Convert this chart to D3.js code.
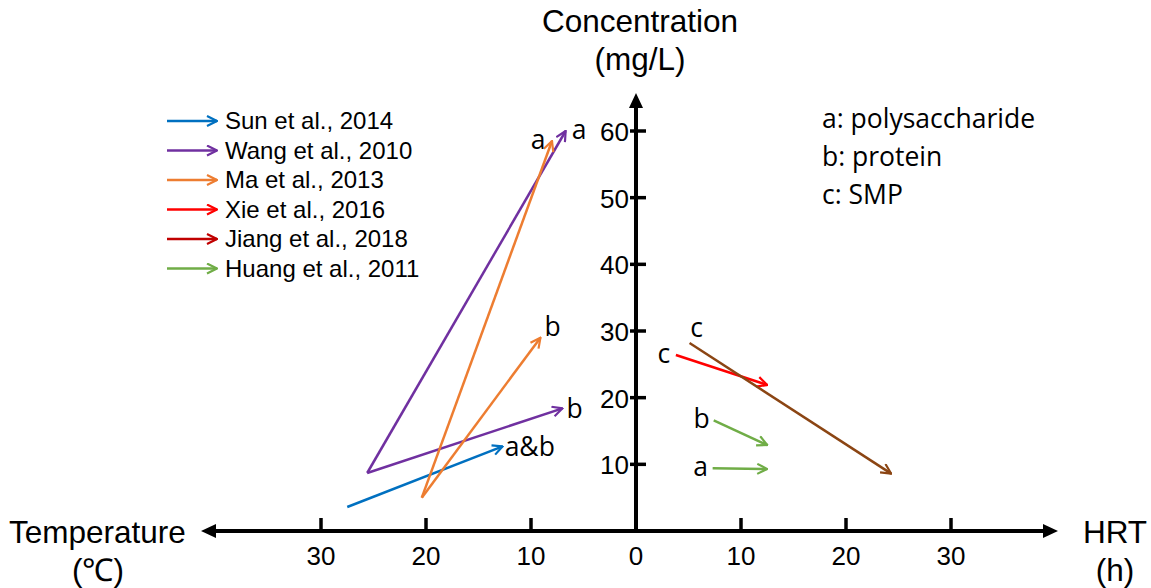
<!DOCTYPE html>
<html>
<head>
<meta charset="utf-8">
<script src="https://cdn.jsdelivr.net/npm/d3@7"></script>
<style>
  body { margin: 0; background: #fff; }
  svg { display: block; }
</style>
</head>
<body>
<svg width="1151" height="588"></svg>
<script>
// studies (legend order) and their colours
const studies = ["Sun et al., 2014", "Wang et al., 2010", "Ma et al., 2013",
                 "Xie et al., 2016", "Jiang et al., 2018", "Huang et al., 2011"];
const legendColors = ["#0070C0", "#7030A0", "#ED7D31", "#FF0000", "#C00000", "#70AD47"];
const lineColors = ["#0070C0", "#7030A0", "#ED7D31", "#FF0000", "#8B4513", "#70AD47"];

// arrows: x < 0 = temperature (°C, left side), x > 0 = HRT (h, right side), y = concentration (mg/L)
const arrowStudy = [0, 1, 1, 2, 2, 3, 4, 5, 5];
const arrowLabel = ["a&b", "a", "b", "a", "b", "c", "c", "b", "a"];
const x0 = [-27.5, -25.6, -25.6, -20.4, -20.4, 3.8, 5.1, 7.4, 7.3];
const y0 = [3.6, 8.7, 8.7, 5.0, 5.0, 26.4, 28.2, 16.6, 9.4];
const x1 = [-12.7, -6.7, -7.0, -8.0, -9.1, 12.5, 24.3, 12.5, 12.5];
const y1 = [12.7, 60, 18.4, 58.5, 29.0, 21.9, 8.6, 12.9, 9.3];

const xTicks = [-30, -20, -10, 0, 10, 20, 30];
const yTicks = [10, 20, 30, 40, 50, 60];
const componentKey = ["a: polysaccharide", "b: protein", "c: SMP"];

const svg = d3.select('svg');
const arial = "'Liberation Sans', Arial, sans-serif";
const calibri = "'Open Sans', Lato, sans-serif";

const xScale = d3.scaleLinear().domain([-30, 30]).range([321, 951]);
const yScale = d3.scaleLinear().domain([0, 60]).range([531, 131]);

// arrow marker per colour
const defs = svg.append('defs');
lineColors.concat(legendColors).forEach((c, i) => {
  defs.append('marker')
    .attr('id', 'm' + i)
    .attr('viewBox', '0 0 12 12')
    .attr('refX', 11).attr('refY', 6)
    .attr('markerWidth', 12).attr('markerHeight', 12)
    .attr('markerUnits', 'userSpaceOnUse')
    .attr('orient', 'auto')
    .append('path')
      .attr('d', 'M1,1 L11,6 L1,11')
      .attr('fill', 'none')
      .attr('stroke', c)
      .attr('stroke-width', 2.2);
});

// axes
const ox = xScale(0), oy = yScale(0);
svg.append('line')
  .attr('x1', 214).attr('x2', 1044).attr('y1', oy).attr('y2', oy)
  .attr('stroke', '#000').attr('stroke-width', 4);
svg.append('line')
  .attr('x1', ox).attr('x2', ox).attr('y1', oy + 2).attr('y2', 106)
  .attr('stroke', '#000').attr('stroke-width', 4);
svg.append('path').attr('d', `M201,${oy} L216,${oy - 7} L216,${oy + 7} Z`).attr('fill', '#000');
svg.append('path').attr('d', `M1058,${oy} L1043,${oy - 7} L1043,${oy + 7} Z`).attr('fill', '#000');
svg.append('path').attr('d', `M${ox},93 L${ox - 7},108 L${ox + 7},108 Z`).attr('fill', '#000');

// x ticks
svg.selectAll('.xtick').data(xTicks.filter(d => d !== 0)).enter()
  .append('line')
    .attr('x1', d => xScale(d)).attr('x2', d => xScale(d))
    .attr('y1', oy).attr('y2', oy - 13)
    .attr('stroke', '#000').attr('stroke-width', 3.5);
svg.selectAll('.xlab').data(xTicks).enter()
  .append('text')
    .attr('x', d => xScale(d)).attr('y', oy + 34)
    .attr('text-anchor', 'middle')
    .style('font-family', arial).style('font-size', '26px')
    .text(d => Math.abs(d));

// y ticks
svg.selectAll('.ytick').data(yTicks).enter()
  .append('line')
    .attr('x1', ox - 6).attr('x2', ox + 10)
    .attr('y1', d => yScale(d)).attr('y2', d => yScale(d))
    .attr('stroke', '#000').attr('stroke-width', 3.5);
svg.selectAll('.ylab').data(yTicks).enter()
  .append('text')
    .attr('x', ox - 7).attr('y', d => yScale(d) + 10)
    .attr('text-anchor', 'end')
    .style('font-family', arial).style('font-size', '26px')
    .text(d => d);

// axis titles
const titles = [
  ["Concentration", 640, 32, 'middle'], ["(mg/L)", 640, 70, 'middle'],
  ["Temperature", 9, 543, 'start'], ["(℃)", 98, 581, 'middle'],
  ["HRT", 1115, 543, 'middle'], ["(h)", 1115, 581, 'middle']
];
svg.selectAll('.title').data(titles).enter()
  .append('text')
    .attr('x', d => d[1]).attr('y', d => d[2])
    .attr('text-anchor', d => d[3])
    .style('font-family', arial).style('font-size', '31.5px')
    .text(d => d[0]);

// data arrows
const arrows = arrowStudy.map((s, i) => ({ s, label: arrowLabel[i], x0: x0[i], y0: y0[i], x1: x1[i], y1: y1[i] }));
svg.selectAll('.arrow').data(arrows).enter()
  .append('line')
    .attr('x1', d => xScale(d.x0)).attr('y1', d => yScale(d.y0))
    .attr('x2', d => xScale(d.x1)).attr('y2', d => yScale(d.y1))
    .attr('stroke', d => lineColors[d.s])
    .attr('stroke-width', 2.5)
    .attr('marker-end', d => `url(#m${d.s})`);

// letter labels: at arrow tip for left side, at arrow tail for right side
const tipLabel = d => d.x1 < 0;
svg.selectAll('.alab').data(arrows).enter()
  .append('text')
    .attr('x', d => {
      if (!tipLabel(d)) return xScale(d.x0) - (d.s === 4 ? -7 : 12);
      if (d.y1 > 50) return xScale(d.x1) + (d.s === 2 ? -14 : 6);
      return xScale(d.x1) + (d.s === 0 ? 2 : 4);
    })
    .attr('y', d => tipLabel(d) ? yScale(d.y1) + (d.y1 > 50 ? 8 : (d.s === 2 ? -2 : 10))
                                : yScale(d.y0) + (d.s === 4 ? -6 : 8))
    .attr('text-anchor', d => tipLabel(d) && !(d.y1 > 50 && d.s === 2) ? 'start' : 'middle')
    .style('font-family', calibri).style('font-size', '26.5px')
    .text(d => d.label);

// study legend
const legend = svg.selectAll('.leg').data(studies).enter()
  .append('g')
    .attr('transform', (d, i) => `translate(167, ${121 + i * 29.5})`);
legend.append('line')
  .attr('x1', 0).attr('x2', 50).attr('y1', 0).attr('y2', 0)
  .attr('stroke', (d, i) => legendColors[i]).attr('stroke-width', 2.5)
  .attr('marker-end', (d, i) => `url(#m${i + lineColors.length})`);
legend.append('text')
  .attr('x', 58).attr('y', 8)
  .style('font-family', arial).style('font-size', '24px')
  .text(d => d);

// component key
svg.selectAll('.key').data(componentKey).enter()
  .append('text')
    .attr('x', 822).attr('y', (d, i) => 128 + i * 38)
    .style('font-family', calibri).style('font-size', '26.5px')
    .text(d => d);
</script>
</body>
</html>
